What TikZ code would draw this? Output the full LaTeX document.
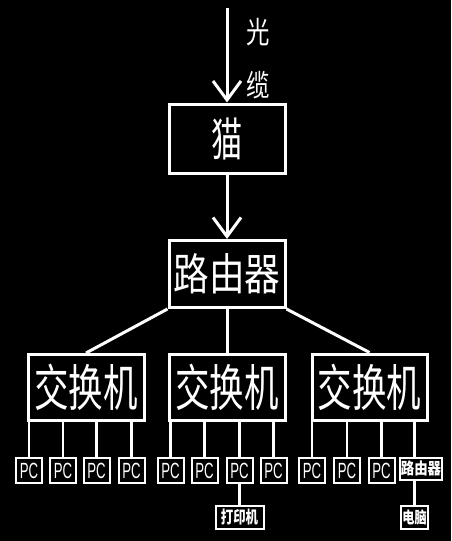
\documentclass[tikz,border=0pt]{standalone}
\usepackage{fontspec}
\usepackage{graphicx}
\newfontfamily\cjk{Noto Sans CJK SC}
\newfontfamily\pcfont{Liberation Sans}
\usetikzlibrary{arrows.meta}
\newcommand{\cjkt}[3]{{\cjk\fontsize{#1}{#1}\selectfont\scalebox{#2}[1]{#3}}}
\newcommand{\pct}{{\pcfont\fontsize{22}{22}\selectfont\scalebox{0.6}[1]{PC}}}
\begin{document}
\begin{tikzpicture}[x=1pt,y=-1pt,
  bigbox/.style={draw=white, line width=3pt, minimum width=116pt, minimum height=67pt, inner sep=0pt, text=white},
  smallbox/.style={draw=white, line width=2pt, minimum width=26pt, minimum height=25pt, inner sep=0pt, text=white},
  wire/.style={draw=white, line width=3pt},
  thinwire/.style={draw=white, line width=2.8pt},
  lbl/.style={text=white, inner sep=0pt},
  arr/.style={-{Straight Barb[length=19pt, width=28pt, line width=3pt]}}
]
\fill[black] (0,0) rectangle (451,541);
\useasboundingbox (0,0) rectangle (451,541);

% main boxes
\node[bigbox, minimum height=69pt] (modem) at (227,138.5) {\cjkt{46}{0.68}{猫}};
\node[bigbox] (router) at (227,274) {\cjkt{44}{0.81}{路由器}};
\node[bigbox, minimum height=66pt] (sw1) at (86,387.5) {\cjkt{50}{0.69}{交换机}};
\node[bigbox, minimum height=66pt] (sw2) at (227,387) {\cjkt{50}{0.69}{交换机}};
\node[bigbox, minimum height=66pt, minimum width=115pt] (sw3) at (369.5,387) {\cjkt{50}{0.69}{交换机}};

% cable label
\coordinate (top) at (227,8);
\node[lbl] (guang) at (258,32) {\cjkt{30}{0.78}{光}};
\node[lbl] (lan) at (258,85) {\cjkt{30}{0.78}{缆}};

% PCs
\node[smallbox] (p11) at (29,470.5) {\pct};
\node[smallbox] (p12) at (63,470.5) {\pct};
\node[smallbox] (p13) at (96.5,470.5) {\pct};
\node[smallbox] (p14) at (131.5,470.5) {\pct};
\node[smallbox] (p21) at (170.5,470.5) {\pct};
\node[smallbox] (p22) at (204.5,470.5) {\pct};
\node[smallbox] (p23) at (239.5,470.5) {\pct};
\node[smallbox] (p24) at (273.5,470.5) {\pct};
\node[smallbox] (p31) at (312,470.5) {\pct};
\node[smallbox] (p32) at (347,470.5) {\pct};
\node[smallbox] (p33) at (381.5,470.5) {\pct};
\node[smallbox, minimum width=42pt, minimum height=22pt] (rr) at (421,468.5) {\bfseries\cjkt{16}{0.84}{路由器}};
\node[smallbox, minimum width=48pt, minimum height=23pt] (printer) at (239.5,517) {\bfseries\cjkt{17}{0.73}{打印机}};
\node[smallbox, minimum width=27pt, minimum height=23pt] (comp) at (414.5,517) {\bfseries\cjkt{16}{0.76}{电脑}};

% arrows
\draw[wire, arr] (top) -- (modem.north);
\draw[wire, arr] (modem.south) -- (router.north);

% router to switches
\draw[wire] (router.south west) -- (sw1.north);
\draw[wire] (router.south) -- (sw2.north);
\draw[wire] (router.south east) -- (sw3.north);

% switches to PCs
\foreach \p in {p11,p12,p13,p14} \draw[thinwire] (sw1.south -| \p) -- (\p.north);
\foreach \p in {p21,p22,p23,p24} \draw[thinwire] (sw2.south -| \p) -- (\p.north);
\foreach \p in {p31,p32,p33} \draw[thinwire] (sw3.south -| \p) -- (\p.north);
\draw[thinwire] (sw3.south -| comp) -- (rr.north -| comp);
\draw[thinwire] (p23.south) -- (printer.north);
\draw[thinwire] (rr.south -| comp) -- (comp.north);
\end{tikzpicture}
\end{document}
